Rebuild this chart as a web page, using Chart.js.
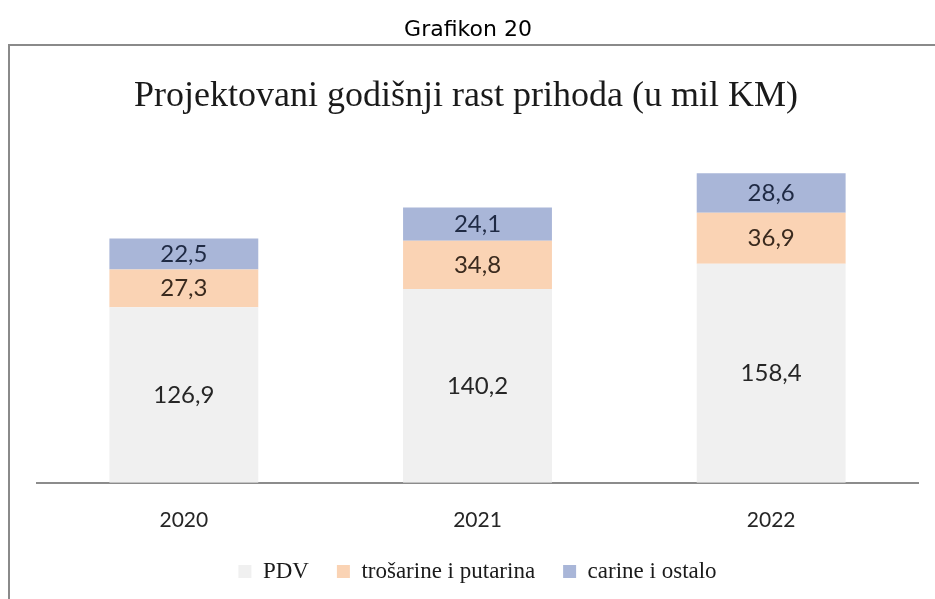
<!DOCTYPE html>
<html>
<head>
    <meta charset="UTF-8">
    <title>Grafikon 20</title>
    <script src="https://cdn.jsdelivr.net/npm/chart.js"></script>
    <style>
        html, body { margin: 0; padding: 0; background: #fff; }
        #wrap { width: 935px; height: 599px; }
    </style>
</head>
<body>
<div id="wrap"><canvas id="chart" width="935" height="599"></canvas></div>

<script>
    // podaci
    var years = ['2020', '2021', '2022'];
    var pdv = [126.9, 140.2, 158.4];
    var trosarine = [27.3, 34.8, 36.9];
    var carine = [22.5, 24.1, 28.6];
    var seriesNames = ['PDV', 'trošarine i putarina', 'carine i ostalo'];
    var chartTitle = 'Projektovani godišnji rast prihoda (u mil KM)';

    // okvir, "Grafikon 20" i naslov grafikona
    var framePlugin = {
        id: 'frame',
        beforeDraw: function (chart) {
            var c = chart.ctx;
            c.save();
            c.fillStyle = '#fff';
            c.fillRect(0, 0, chart.width, chart.height);
            c.strokeStyle = '#8a8a8a';
            c.lineWidth = 2;
            c.beginPath();
            c.moveTo(9, 620);
            c.lineTo(9, 45);
            c.lineTo(940, 45);
            c.stroke();
            c.textAlign = 'center';
            c.textBaseline = 'middle';
            c.fillStyle = '#000';
            c.font = '22px "DejaVu Sans"';
            c.fillText('Grafikon 20', 468, 30);
            c.fillStyle = '#1a1a1a';
            c.font = '36px "Liberation Serif"';
            c.fillText(chartTitle, 466, 97);
            c.restore();
        }
    };

    // vrijednosti na stupcima
    var labelPlugin = {
        id: 'barLabels',
        afterDatasetsDraw: function (chart) {
            var c = chart.ctx;
            c.save();
            c.font = '24px Lato';
            c.textAlign = 'center';
            c.textBaseline = 'middle';
            chart.data.datasets.forEach(function (ds, i) {
                var meta = chart.getDatasetMeta(i);
                meta.data.forEach(function (bar, j) {
                    var txt = ds.data[j].toFixed(1).replace('.', ',');
                    c.fillStyle = i === 2 ? '#1f2a44' : (i === 1 ? '#3a2a1e' : '#262626');
                    c.fillText(txt, bar.x, (bar.y + bar.base) / 2);
                });
            });
            c.restore();
        }
    };

    var ctx = document.getElementById('chart').getContext('2d');
    var chart = new Chart(ctx, {
        type: 'bar',
        data: {
            labels: years,
            datasets: [
                { label: seriesNames[0], data: pdv, backgroundColor: '#f0f0f0' },
                { label: seriesNames[1], data: trosarine, backgroundColor: '#fad3b4' },
                { label: seriesNames[2], data: carine, backgroundColor: '#a9b6d8' }
            ]
        },
        options: {
            responsive: false,
            animation: false,
            layout: { padding: { left: 37, right: 17, top: 151, bottom: 6 } },
            datasets: {
                bar: { categoryPercentage: 1, barPercentage: 0.507 }
            },
            scales: {
                x: {
                    stacked: true,
                    grid: { display: false, drawTicks: false },
                    border: { display: true, color: '#8c8c8c', width: 2 },
                    ticks: { color: '#262626', font: { family: 'Lato', size: 21 }, padding: 25 },
                    afterFit: function (scale) { scale.height -= 26; }
                },
                y: {
                    stacked: true,
                    display: false,
                    min: 0,
                    max: 240
                }
            },
            plugins: {
                title: { display: false },
                legend: {
                    position: 'bottom',
                    labels: {
                        color: '#1a1a1a',
                        font: { family: '"Liberation Serif"', size: 23 },
                        boxWidth: 13,
                        boxHeight: 13,
                        padding: 28
                    }
                },
                tooltip: { enabled: false }
            }
        },
        plugins: [framePlugin, labelPlugin]
    });
</script>
</body>
</html>
